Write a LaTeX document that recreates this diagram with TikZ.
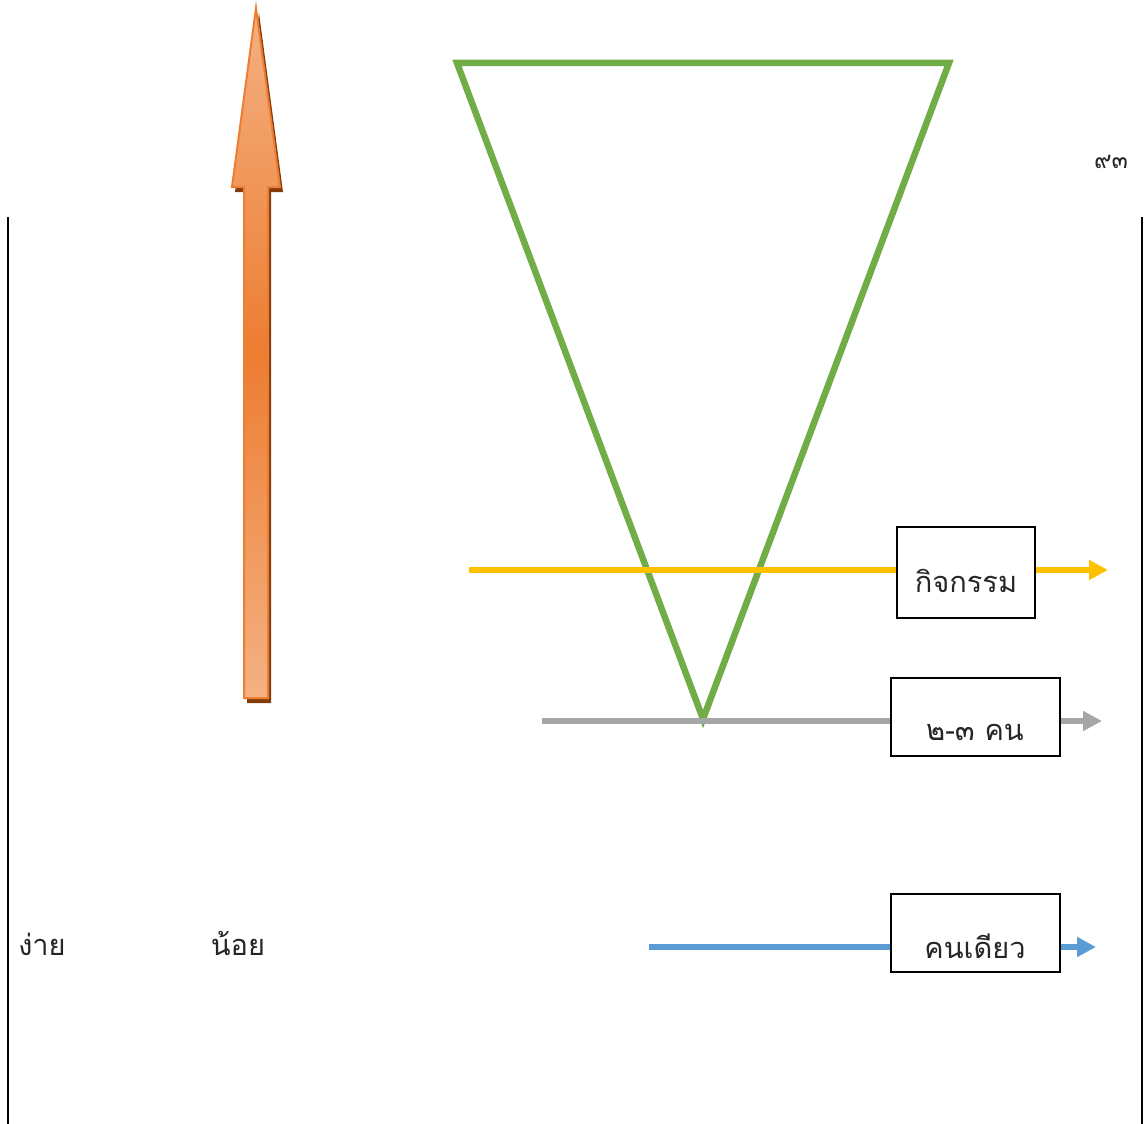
\documentclass[tikz,border=0pt]{standalone}
\usepackage{fontspec}
\newfontfamily\thaifont[Script=Thai]{Loma}
\usetikzlibrary{arrows.meta}
\definecolor{leafgreen}{HTML}{70AD47}
\definecolor{ambergold}{HTML}{FFC000}
\definecolor{steelgray}{HTML}{A5A5A5}
\definecolor{skyblue}{HTML}{5B9BD5}
\definecolor{peach}{HTML}{F4B183}
\definecolor{pumpkin}{HTML}{ED7D31}
\definecolor{rust}{HTML}{843C0C}

\begin{document}
\begin{tikzpicture}[x=1pt, y=-1pt, font=\thaifont\fontsize{29}{34}\selectfont,
  flowline/.style={line width=5.5pt},
  flowtip/.style={-{Triangle[length=19pt, width=19pt]}},
  tagbox/.style={draw=black, line width=1.8pt, inner sep=0pt},
  tagtext/.style={anchor=base, text=black!85}]

  \useasboundingbox (0,0) rectangle (1144,1124);

  % page margins
  \draw[line width=2pt] (7.5,217) -- (7.5,1124);
  \draw[line width=2pt] (1142,217) -- (1142,1124);
  \node[tagtext, font=\thaifont\fontsize{24}{28}\selectfont] (pagenum) at (1111,168) {๙๓};

  % upward arrow
  \def\arrowpath{(256,8) -- (280,187) -- (268,187) -- (268,698) -- (244,698) -- (244,187) -- (232,187) -- cycle}
  \fill[rust, shift={(3,5)}] \arrowpath;
  \shade[top color=peach, bottom color=peach, middle color=pumpkin] \arrowpath;
  \draw[pumpkin, line width=2pt, line join=miter] \arrowpath;

  % funnel
  \draw[leafgreen, line width=6.5pt] (457,63) -- (949,63) -- (703,719) -- cycle;

  % levels
  \node[tagbox, minimum width=138pt, minimum height=91pt] (act) at (966,572.5) {};
  \node[tagbox, minimum width=169pt, minimum height=78pt] (grp) at (975.5,717) {};
  \node[tagbox, minimum width=169pt, minimum height=78pt] (solo) at (975.5,933) {};
  \node[tagtext] (acttext) at (966,592) {กิจกรรม};
  \node[tagtext] (grptext) at (975,740) {๒-๓ คน};
  \node[tagtext] (solotext) at (975,958) {คนเดียว};

  \coordinate (actstart) at (469,570);
  \coordinate (actend) at (1108,570);
  \coordinate (grpstart) at (542,721);
  \coordinate (grpend) at (1102,721);
  \coordinate (solostart) at (649,947);
  \coordinate (soloend) at (1096,947);

  \draw[flowline, ambergold] (actstart) -- (act.west |- actstart);
  \draw[flowline, ambergold, flowtip] (act.east |- actstart) -- (actend);
  \draw[flowline, steelgray] (grpstart) -- (grp.west |- grpstart);
  \draw[flowline, steelgray, flowtip] (grp.east |- grpstart) -- (grpend);
  \draw[flowline, skyblue] (solostart) -- (solo.west |- solostart);
  \draw[flowline, skyblue, flowtip] (solo.east |- solostart) -- (soloend);

  \node[tagtext] (easy) at (42,955) {ง่าย};
  \node[tagtext] (few) at (238,955) {น้อย};

\end{tikzpicture}
\end{document}
